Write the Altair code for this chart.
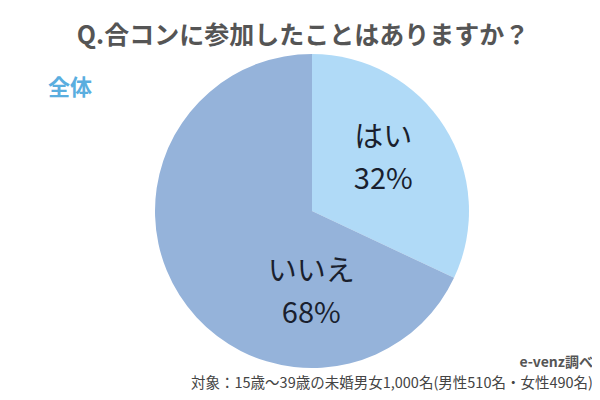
import altair as alt
import pandas as pd

categories = ["はい", "いいえ"]
values = [32, 68]
colors = ["#b0daf7", "#95b3da"]
labels = ["はい\n32%", "いいえ\n68%"]

title_text = "Q.合コンに参加したことはありますか？"
group_text = "全体"
source_text = "e-venz調べ"
note_text = "対象：15歳～39歳の未婚男女1,000名(男性510名・女性490名)"

FONT = "Noto Sans CJK JP"

df = pd.DataFrame({"category": categories, "value": values, "label": labels,
                   "order": list(range(len(categories)))})

base = alt.Chart(df).encode(
    theta=alt.Theta("value:Q", stack=True),
    order=alt.Order("order:Q"),
)

pie = base.mark_arc(radius=157).encode(
    color=alt.Color("category:N", scale=alt.Scale(domain=categories, range=colors), legend=None)
)

def label_layer(cat, dx, dy):
    return base.mark_text(
        radius=88, font=FONT, fontSize=29, lineBreak="\n", lineHeight=42,
        color="#1a1f2e", dx=dx, dy=dy, baseline="middle", align="center"
    ).encode(text="label:N").transform_filter(alt.datum.category == cat)

lab1 = label_layer("はい", -3, -26)
lab2 = label_layer("いいえ", -75, 14)

ann = pd.DataFrame({"t": [0]})
def note(text, x, y, size, color, align, weight):
    return alt.Chart(ann).mark_text(
        text=text, font=FONT, fontSize=size, color=color, align=align,
        baseline="middle", fontWeight=weight
    ).encode(x=alt.value(x), y=alt.value(y))

t1 = note(title_text, 271, 6, 25, "#555555", "center", "bold")
t2 = note(group_text, 16, 58, 22, "#5aaedf", "left", "bold")
t3 = note(source_text, 561, 333, 14, "#555555", "right", "bold")
t4 = note(note_text, 561, 354, 14.5, "#444444", "right", "normal")

chart = alt.layer(pie, lab1, lab2, t1, t2, t3, t4).properties(
    width=560, height=362,
    padding={"left": 24, "top": 22, "right": 0, "bottom": 0},
    autosize=alt.AutoSizeParams(type="none"),
).configure_view(stroke=None)

chart.save("out.html", embed_options={"renderer": "svg", "actions": False})
